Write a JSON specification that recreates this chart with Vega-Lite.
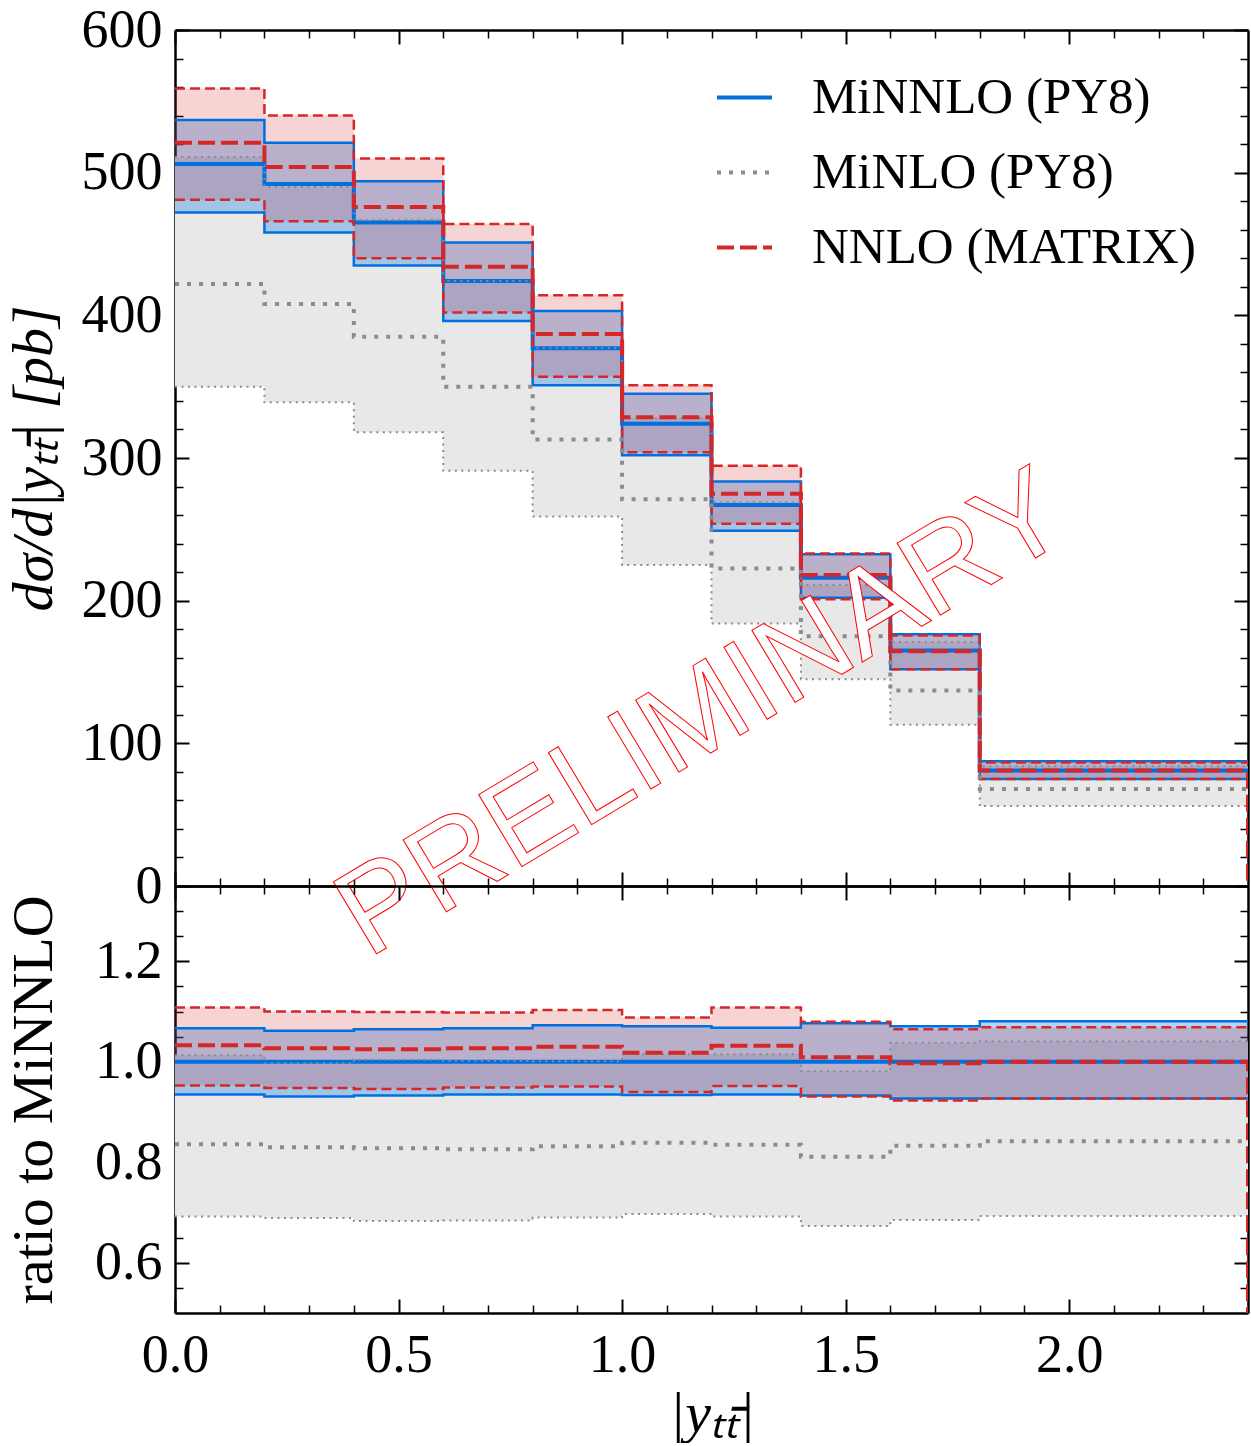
{
  "$schema": "https://vega.github.io/schema/vega-lite/v6.json",
  "background": "white",
  "padding": {"left": 5, "top": 3, "right": 3, "bottom": 0},
  "spacing": 0,
  "bounds": "flush",
  "config": {
    "view": {"stroke": null},
    "axis": {"labelFont": "Liberation Serif", "labelFontSize": 54, "titleFont": "Liberation Serif", "titleFontSize": 58, "titleFontWeight": "normal", "tickColor": "black", "labelColor": "black", "titleColor": "black", "grid": false, "domain": false, "zindex": 1, "domainColor": "black", "domainWidth": 2.5, "labelFlush": false, "labelOverlap": false}
  },
  "resolve": {"scale": {"stroke": "independent", "strokeDash": "independent"}, "legend": {"stroke": "independent", "strokeDash": "independent"}},
  "datasets": {
    "top": [
      {"x": 0, "s": "MiNNLO (PY8)", "lo": 472, "c": 506, "hi": 537},
      {"x": 0.2, "s": "MiNNLO (PY8)", "lo": 458, "c": 492, "hi": 521},
      {"x": 0.4, "s": "MiNNLO (PY8)", "lo": 435, "c": 465, "hi": 494},
      {"x": 0.6, "s": "MiNNLO (PY8)", "lo": 396, "c": 424, "hi": 451},
      {"x": 0.8, "s": "MiNNLO (PY8)", "lo": 351, "c": 377, "hi": 403},
      {"x": 1.0, "s": "MiNNLO (PY8)", "lo": 302, "c": 324, "hi": 345},
      {"x": 1.2, "s": "MiNNLO (PY8)", "lo": 249, "c": 267, "hi": 283.6},
      {"x": 1.4, "s": "MiNNLO (PY8)", "lo": 202, "c": 216, "hi": 232.5},
      {"x": 1.6, "s": "MiNNLO (PY8)", "lo": 152, "c": 165, "hi": 176.5},
      {"x": 1.8, "s": "MiNNLO (PY8)", "lo": 75, "c": 81, "hi": 87.4},
      {"x": 2.4, "s": "MiNNLO (PY8)", "lo": 75, "c": 81, "hi": 87.4},
      {"x": 0, "s": "MiNLO (PY8)", "lo": 350, "c": 422, "hi": 511},
      {"x": 0.2, "s": "MiNLO (PY8)", "lo": 339, "c": 408, "hi": 490},
      {"x": 0.4, "s": "MiNLO (PY8)", "lo": 318, "c": 385, "hi": 467},
      {"x": 0.6, "s": "MiNLO (PY8)", "lo": 291, "c": 350, "hi": 424},
      {"x": 0.8, "s": "MiNLO (PY8)", "lo": 259, "c": 313, "hi": 377},
      {"x": 1.0, "s": "MiNLO (PY8)", "lo": 225, "c": 271, "hi": 328},
      {"x": 1.2, "s": "MiNLO (PY8)", "lo": 184, "c": 222.5, "hi": 269},
      {"x": 1.4, "s": "MiNLO (PY8)", "lo": 145, "c": 175, "hi": 211},
      {"x": 1.6, "s": "MiNLO (PY8)", "lo": 113, "c": 137, "hi": 171},
      {"x": 1.8, "s": "MiNLO (PY8)", "lo": 56, "c": 68, "hi": 84},
      {"x": 2.4, "s": "MiNLO (PY8)", "lo": 56, "c": 68, "hi": 84},
      {"x": 0, "s": "NNLO (MATRIX)", "lo": 481, "c": 521, "hi": 559},
      {"x": 0.2, "s": "NNLO (MATRIX)", "lo": 466, "c": 504, "hi": 540},
      {"x": 0.4, "s": "NNLO (MATRIX)", "lo": 440, "c": 476, "hi": 510},
      {"x": 0.6, "s": "NNLO (MATRIX)", "lo": 402, "c": 434, "hi": 464},
      {"x": 0.8, "s": "NNLO (MATRIX)", "lo": 357, "c": 387, "hi": 414},
      {"x": 1.0, "s": "NNLO (MATRIX)", "lo": 304, "c": 328.5, "hi": 351},
      {"x": 1.2, "s": "NNLO (MATRIX)", "lo": 254, "c": 275, "hi": 294.6},
      {"x": 1.4, "s": "NNLO (MATRIX)", "lo": 201, "c": 218, "hi": 233},
      {"x": 1.6, "s": "NNLO (MATRIX)", "lo": 152, "c": 164.5, "hi": 175.5},
      {"x": 1.8, "s": "NNLO (MATRIX)", "lo": 75, "c": 81, "hi": 86.5},
      {"x": 2.4, "s": "NNLO (MATRIX)", "lo": 75, "c": 81, "hi": 86.5},
      {"x": 2.4, "s": "NNLO (MATRIX)", "c": 0}
    ],
    "ratio": [
      {"x": 0, "s": "MiNNLO (PY8)", "lo": 0.935, "c": 1, "hi": 1.067},
      {"x": 0.2, "s": "MiNNLO (PY8)", "lo": 0.931, "c": 1, "hi": 1.062},
      {"x": 0.4, "s": "MiNNLO (PY8)", "lo": 0.933, "c": 1, "hi": 1.065},
      {"x": 0.6, "s": "MiNNLO (PY8)", "lo": 0.935, "c": 1, "hi": 1.067},
      {"x": 0.8, "s": "MiNNLO (PY8)", "lo": 0.935, "c": 1, "hi": 1.073},
      {"x": 1.0, "s": "MiNNLO (PY8)", "lo": 0.934, "c": 1, "hi": 1.071},
      {"x": 1.2, "s": "MiNNLO (PY8)", "lo": 0.935, "c": 1, "hi": 1.068},
      {"x": 1.4, "s": "MiNNLO (PY8)", "lo": 0.933, "c": 1, "hi": 1.077},
      {"x": 1.6, "s": "MiNNLO (PY8)", "lo": 0.927, "c": 1, "hi": 1.071},
      {"x": 1.8, "s": "MiNNLO (PY8)", "lo": 0.927, "c": 1, "hi": 1.081},
      {"x": 2.4, "s": "MiNNLO (PY8)", "lo": 0.927, "c": 1, "hi": 1.081},
      {"x": 0, "s": "MiNLO (PY8)", "lo": 0.692, "c": 0.836, "hi": 1.013},
      {"x": 0.2, "s": "MiNLO (PY8)", "lo": 0.689, "c": 0.83, "hi": 0.997},
      {"x": 0.4, "s": "MiNLO (PY8)", "lo": 0.683, "c": 0.828, "hi": 1.004},
      {"x": 0.6, "s": "MiNLO (PY8)", "lo": 0.684, "c": 0.826, "hi": 1.002},
      {"x": 0.8, "s": "MiNLO (PY8)", "lo": 0.69, "c": 0.832, "hi": 1.001},
      {"x": 1.0, "s": "MiNLO (PY8)", "lo": 0.697, "c": 0.839, "hi": 1.015},
      {"x": 1.2, "s": "MiNLO (PY8)", "lo": 0.692, "c": 0.835, "hi": 1.015},
      {"x": 1.4, "s": "MiNLO (PY8)", "lo": 0.673, "c": 0.811, "hi": 0.981},
      {"x": 1.6, "s": "MiNLO (PY8)", "lo": 0.685, "c": 0.833, "hi": 1.038},
      {"x": 1.8, "s": "MiNLO (PY8)", "lo": 0.693, "c": 0.842, "hi": 1.041},
      {"x": 2.4, "s": "MiNLO (PY8)", "lo": 0.693, "c": 0.842, "hi": 1.041},
      {"x": 0, "s": "NNLO (MATRIX)", "lo": 0.953, "c": 1.033, "hi": 1.108},
      {"x": 0.2, "s": "NNLO (MATRIX)", "lo": 0.948, "c": 1.027, "hi": 1.1},
      {"x": 0.4, "s": "NNLO (MATRIX)", "lo": 0.946, "c": 1.025, "hi": 1.099},
      {"x": 0.6, "s": "NNLO (MATRIX)", "lo": 0.949, "c": 1.027, "hi": 1.098},
      {"x": 0.8, "s": "NNLO (MATRIX)", "lo": 0.951, "c": 1.03, "hi": 1.103},
      {"x": 1.0, "s": "NNLO (MATRIX)", "lo": 0.94, "c": 1.018, "hi": 1.088},
      {"x": 1.2, "s": "NNLO (MATRIX)", "lo": 0.952, "c": 1.032, "hi": 1.108},
      {"x": 1.4, "s": "NNLO (MATRIX)", "lo": 0.931, "c": 1.009, "hi": 1.08},
      {"x": 1.6, "s": "NNLO (MATRIX)", "lo": 0.923, "c": 0.997, "hi": 1.065},
      {"x": 1.8, "s": "NNLO (MATRIX)", "lo": 0.927, "c": 1.0, "hi": 1.069},
      {"x": 2.4, "s": "NNLO (MATRIX)", "lo": 0.927, "c": 1.0, "hi": 1.069},
      {"x": 2.4, "s": "NNLO (MATRIX)", "c": 0}
    ]
  },
  "vconcat": [
    {
      "width": 1073,
      "height": 856,
      "data": {"name": "top"},
      "resolve": {"axis": {"x": "independent", "y": "independent"}},
      "layer": [
        {
          "transform": [{"filter": {"field": "s", "equal": "MiNLO (PY8)"}}],
          "mark": {"type": "area", "interpolate": "step-after", "color": "#e8e8e8", "opacity": 1},
          "encoding": {
            "x": {"field": "x", "type": "quantitative", "scale": {"domain": [0, 2.4], "nice": false, "zero": false},
                  "axis": {"orient": "bottom", "values": [0, 0.5, 1, 1.5, 2], "labels": false, "tickSize": -14, "tickWidth": 2, "title": null, "domain": true}},
            "y": {"field": "lo", "type": "quantitative", "scale": {"domain": [0, 600], "nice": false, "zero": false},
                  "axis": {"orient": "left", "values": [0, 100, 200, 300, 400, 500, 600], "tickSize": -14, "tickWidth": 2, "labelPadding": 27, "minExtent": 95, "maxExtent": 95, "title": "dσ/d|yₜₜ̄| [pb]", "titleFontStyle": "italic", "titlePadding": 17, "domain": true}},
            "y2": {"field": "hi"}
          }
        },
        {
          "transform": [{"filter": {"field": "s", "equal": "MiNNLO (PY8)"}}],
          "mark": {"type": "area", "interpolate": "step-after", "color": "#0070e0", "opacity": 0.3},
          "encoding": {
            "x": {"field": "x", "type": "quantitative",
                  "axis": {"orient": "top", "values": [0, 0.5, 1, 1.5, 2], "labels": false, "tickSize": -14, "tickWidth": 2, "title": null, "domain": true}},
            "y": {"field": "lo", "type": "quantitative",
                  "axis": {"orient": "right", "values": [0, 100, 200, 300, 400, 500, 600], "labels": false, "tickSize": -14, "tickWidth": 2, "title": null, "domain": true}},
            "y2": {"field": "hi"}
          }
        },
        {
          "transform": [{"filter": {"field": "s", "equal": "NNLO (MATRIX)"}}],
          "mark": {"type": "area", "interpolate": "step-after", "color": "#d62728", "opacity": 0.2},
          "encoding": {
            "x": {"field": "x", "type": "quantitative",
                  "axis": {"orient": "bottom", "values": [0.1, 0.2, 0.3, 0.4, 0.6, 0.7, 0.8, 0.9, 1.1, 1.2, 1.3, 1.4, 1.6, 1.7, 1.8, 1.9, 2.1, 2.2, 2.3], "labels": false, "tickSize": -8, "tickWidth": 1.5, "title": null}},
            "y": {"field": "lo", "type": "quantitative",
                  "axis": {"orient": "left", "values": [20, 40, 60, 80, 120, 140, 160, 180, 220, 240, 260, 280, 320, 340, 360, 380, 420, 440, 460, 480, 520, 540, 560, 580], "labels": false, "tickSize": -8, "tickWidth": 1.5, "title": null}},
            "y2": {"field": "hi"}
          }
        },
        {
          "transform": [{"filter": {"field": "s", "equal": "MiNNLO (PY8)"}}],
          "mark": {"type": "line", "interpolate": "step-after", "color": "#0070e0", "strokeWidth": 2.5},
          "encoding": {
            "x": {"field": "x", "type": "quantitative",
                  "axis": {"orient": "top", "values": [0.1, 0.2, 0.3, 0.4, 0.6, 0.7, 0.8, 0.9, 1.1, 1.2, 1.3, 1.4, 1.6, 1.7, 1.8, 1.9, 2.1, 2.2, 2.3], "labels": false, "tickSize": -8, "tickWidth": 1.5, "title": null}},
            "y": {"field": "lo", "type": "quantitative",
                  "axis": {"orient": "right", "values": [20, 40, 60, 80, 120, 140, 160, 180, 220, 240, 260, 280, 320, 340, 360, 380, 420, 440, 460, 480, 520, 540, 560, 580], "labels": false, "tickSize": -8, "tickWidth": 1.5, "title": null}}
          }
        },
        {
          "transform": [{"filter": {"field": "s", "equal": "MiNNLO (PY8)"}}],
          "mark": {"type": "line", "interpolate": "step-after", "color": "#0070e0", "strokeWidth": 2.5},
          "encoding": {"x": {"field": "x", "type": "quantitative", "axis": null}, "y": {"field": "hi", "type": "quantitative", "axis": null}}
        },
        {
          "transform": [{"filter": {"field": "s", "equal": "MiNNLO (PY8)"}}],
          "mark": {"type": "line", "interpolate": "step-after", "color": "#0070e0", "strokeWidth": 4},
          "encoding": {"x": {"field": "x", "type": "quantitative", "axis": null}, "y": {"field": "c", "type": "quantitative", "axis": null}}
        },
        {
          "transform": [{"filter": {"field": "s", "equal": "MiNLO (PY8)"}}],
          "mark": {"type": "line", "interpolate": "step-after", "color": "#8c8c8c", "strokeWidth": 2, "strokeDash": [2, 4.5]},
          "encoding": {"x": {"field": "x", "type": "quantitative", "axis": null}, "y": {"field": "lo", "type": "quantitative", "axis": null}}
        },
        {
          "transform": [{"filter": {"field": "s", "equal": "MiNLO (PY8)"}}],
          "mark": {"type": "line", "interpolate": "step-after", "color": "#8c8c8c", "strokeWidth": 2, "strokeDash": [2, 4.5]},
          "encoding": {"x": {"field": "x", "type": "quantitative", "axis": null}, "y": {"field": "hi", "type": "quantitative", "axis": null}}
        },
        {
          "transform": [{"filter": {"field": "s", "equal": "NNLO (MATRIX)"}}],
          "mark": {"type": "line", "interpolate": "step-after", "color": "#d62728", "strokeWidth": 2.5, "strokeDash": [10, 5]},
          "encoding": {"x": {"field": "x", "type": "quantitative", "axis": null}, "y": {"field": "lo", "type": "quantitative", "axis": null}}
        },
        {
          "transform": [{"filter": {"field": "s", "equal": "NNLO (MATRIX)"}}],
          "mark": {"type": "line", "interpolate": "step-after", "color": "#d62728", "strokeWidth": 2.5, "strokeDash": [10, 5]},
          "encoding": {"x": {"field": "x", "type": "quantitative", "axis": null}, "y": {"field": "hi", "type": "quantitative", "axis": null}}
        },
        {
          "transform": [{"filter": {"field": "s", "oneOf": ["MiNLO (PY8)", "NNLO (MATRIX)"]}}],
          "mark": {"type": "line", "interpolate": "step-after", "strokeWidth": 4, "clip": true},
          "encoding": {
            "x": {"field": "x", "type": "quantitative", "axis": null},
            "y": {"field": "c", "type": "quantitative", "axis": null},
            "stroke": {"field": "s", "type": "nominal",
                       "scale": {"domain": ["MiNNLO (PY8)", "MiNLO (PY8)", "NNLO (MATRIX)"], "range": ["#0070e0", "#8c8c8c", "#d62728"]},
                       "legend": {"orient": "none", "legendX": 540, "legendY": 38, "title": null, "labelFont": "Liberation Serif", "labelFontSize": 51, "labelColor": "black", "labelLimit": 0, "symbolType": "stroke", "symbolSize": 3025, "symbolStrokeWidth": 4, "labelOffset": 38, "rowPadding": 20}},
            "strokeDash": {"field": "s", "type": "nominal",
                       "scale": {"domain": ["MiNNLO (PY8)", "MiNLO (PY8)", "NNLO (MATRIX)"], "range": [[1, 0], [4, 8], [17, 6]]},
                       "legend": {"orient": "none", "legendX": 540, "legendY": 38, "title": null, "labelFont": "Liberation Serif", "labelFontSize": 51, "labelColor": "black", "labelLimit": 0, "symbolType": "stroke", "symbolSize": 3025, "symbolStrokeWidth": 4, "labelOffset": 38, "rowPadding": 20}}
          }
        },
        {
          "data": {"values": [{"label": "PRELIMINARY"}]},
          "mark": {"type": "text", "angle": 329, "font": "Liberation Sans", "fontSize": 122, "fill": "white", "stroke": "#ff0000", "strokeWidth": 1, "align": "center", "baseline": "middle"},
          "encoding": {
            "x": {"datum": 1.18, "type": "quantitative", "axis": null},
            "y": {"datum": 120, "type": "quantitative", "axis": null},
            "text": {"field": "label"}
          }
        }
      ]
    },
    {
      "width": 1073,
      "height": 427,
      "data": {"name": "ratio"},
      "resolve": {"axis": {"x": "independent", "y": "independent"}},
      "layer": [
        {
          "transform": [{"filter": {"field": "s", "equal": "MiNLO (PY8)"}}],
          "mark": {"type": "area", "interpolate": "step-after", "color": "#e8e8e8", "opacity": 1},
          "encoding": {
            "x": {"field": "x", "type": "quantitative", "scale": {"domain": [0, 2.4], "nice": false, "zero": false},
                  "axis": {"orient": "bottom", "values": [0, 0.5, 1, 1.5, 2], "format": ".1f", "tickSize": -14, "tickWidth": 2, "labelPadding": 29, "title": "|yₜₜ̄|", "titleFontStyle": "italic", "titlePadding": 3, "domain": true}},
            "y": {"field": "lo", "type": "quantitative", "scale": {"domain": [0.5, 1.35], "nice": false, "zero": false},
                  "axis": {"orient": "left", "values": [0.6, 0.8, 1.0, 1.2], "format": ".1f", "tickSize": -14, "tickWidth": 2, "labelPadding": 27, "minExtent": 95, "maxExtent": 95, "title": "ratio to MiNNLO", "titlePadding": 17, "domain": true}},
            "y2": {"field": "hi"}
          }
        },
        {
          "transform": [{"filter": {"field": "s", "equal": "MiNNLO (PY8)"}}],
          "mark": {"type": "area", "interpolate": "step-after", "color": "#0070e0", "opacity": 0.3},
          "encoding": {
            "x": {"field": "x", "type": "quantitative",
                  "axis": {"orient": "top", "values": [0, 0.5, 1, 1.5, 2], "labels": false, "tickSize": -14, "tickWidth": 2, "title": null, "domain": true}},
            "y": {"field": "lo", "type": "quantitative",
                  "axis": {"orient": "right", "values": [0.6, 0.8, 1.0, 1.2], "labels": false, "tickSize": -14, "tickWidth": 2, "title": null, "domain": true}},
            "y2": {"field": "hi"}
          }
        },
        {
          "transform": [{"filter": {"field": "s", "equal": "NNLO (MATRIX)"}}],
          "mark": {"type": "area", "interpolate": "step-after", "color": "#d62728", "opacity": 0.2},
          "encoding": {
            "x": {"field": "x", "type": "quantitative",
                  "axis": {"orient": "bottom", "values": [0.1, 0.2, 0.3, 0.4, 0.6, 0.7, 0.8, 0.9, 1.1, 1.2, 1.3, 1.4, 1.6, 1.7, 1.8, 1.9, 2.1, 2.2, 2.3], "labels": false, "tickSize": -8, "tickWidth": 1.5, "title": null}},
            "y": {"field": "lo", "type": "quantitative",
                  "axis": {"orient": "left", "values": [0.55, 0.65, 0.7, 0.75, 0.85, 0.9, 0.95, 1.05, 1.1, 1.15, 1.25, 1.3], "labels": false, "tickSize": -8, "tickWidth": 1.5, "title": null}},
            "y2": {"field": "hi"}
          }
        },
        {
          "transform": [{"filter": {"field": "s", "equal": "MiNNLO (PY8)"}}],
          "mark": {"type": "line", "interpolate": "step-after", "color": "#0070e0", "strokeWidth": 2.5},
          "encoding": {
            "x": {"field": "x", "type": "quantitative",
                  "axis": {"orient": "top", "values": [0.1, 0.2, 0.3, 0.4, 0.6, 0.7, 0.8, 0.9, 1.1, 1.2, 1.3, 1.4, 1.6, 1.7, 1.8, 1.9, 2.1, 2.2, 2.3], "labels": false, "tickSize": -8, "tickWidth": 1.5, "title": null}},
            "y": {"field": "lo", "type": "quantitative",
                  "axis": {"orient": "right", "values": [0.55, 0.65, 0.7, 0.75, 0.85, 0.9, 0.95, 1.05, 1.1, 1.15, 1.25, 1.3], "labels": false, "tickSize": -8, "tickWidth": 1.5, "title": null}}
          }
        },
        {
          "transform": [{"filter": {"field": "s", "equal": "MiNNLO (PY8)"}}],
          "mark": {"type": "line", "interpolate": "step-after", "color": "#0070e0", "strokeWidth": 2.5},
          "encoding": {"x": {"field": "x", "type": "quantitative", "axis": null}, "y": {"field": "hi", "type": "quantitative", "axis": null}}
        },
        {
          "transform": [{"filter": {"field": "s", "equal": "MiNNLO (PY8)"}}],
          "mark": {"type": "line", "interpolate": "step-after", "color": "#0070e0", "strokeWidth": 4},
          "encoding": {"x": {"field": "x", "type": "quantitative", "axis": null}, "y": {"field": "c", "type": "quantitative", "axis": null}}
        },
        {
          "transform": [{"filter": {"field": "s", "equal": "MiNLO (PY8)"}}],
          "mark": {"type": "line", "interpolate": "step-after", "color": "#8c8c8c", "strokeWidth": 2, "strokeDash": [2, 4.5]},
          "encoding": {"x": {"field": "x", "type": "quantitative", "axis": null}, "y": {"field": "lo", "type": "quantitative", "axis": null}}
        },
        {
          "transform": [{"filter": {"field": "s", "equal": "MiNLO (PY8)"}}],
          "mark": {"type": "line", "interpolate": "step-after", "color": "#8c8c8c", "strokeWidth": 2, "strokeDash": [2, 4.5]},
          "encoding": {"x": {"field": "x", "type": "quantitative", "axis": null}, "y": {"field": "hi", "type": "quantitative", "axis": null}}
        },
        {
          "transform": [{"filter": {"field": "s", "equal": "MiNLO (PY8)"}}],
          "mark": {"type": "line", "interpolate": "step-after", "color": "#8c8c8c", "strokeWidth": 4, "strokeDash": [4, 8]},
          "encoding": {"x": {"field": "x", "type": "quantitative", "axis": null}, "y": {"field": "c", "type": "quantitative", "axis": null}}
        },
        {
          "transform": [{"filter": {"field": "s", "equal": "NNLO (MATRIX)"}}],
          "mark": {"type": "line", "interpolate": "step-after", "color": "#d62728", "strokeWidth": 2.5, "strokeDash": [10, 5]},
          "encoding": {"x": {"field": "x", "type": "quantitative", "axis": null}, "y": {"field": "lo", "type": "quantitative", "axis": null}}
        },
        {
          "transform": [{"filter": {"field": "s", "equal": "NNLO (MATRIX)"}}],
          "mark": {"type": "line", "interpolate": "step-after", "color": "#d62728", "strokeWidth": 2.5, "strokeDash": [10, 5]},
          "encoding": {"x": {"field": "x", "type": "quantitative", "axis": null}, "y": {"field": "hi", "type": "quantitative", "axis": null}}
        },
        {
          "transform": [{"filter": {"field": "s", "equal": "NNLO (MATRIX)"}}],
          "mark": {"type": "line", "interpolate": "step-after", "color": "#d62728", "strokeWidth": 4, "strokeDash": [17, 6], "clip": true},
          "encoding": {"x": {"field": "x", "type": "quantitative", "axis": null}, "y": {"field": "c", "type": "quantitative", "axis": null}}
        }
      ]
    }
  ]
}
